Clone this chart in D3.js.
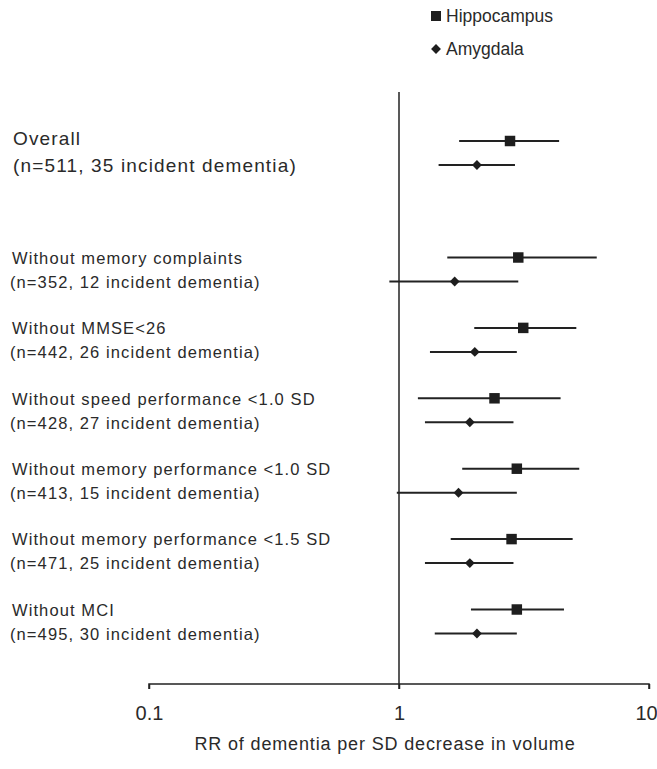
<!DOCTYPE html>
<html lang="en">
<head>
  <meta charset="UTF-8">
  <title>RR of dementia forest plot</title>
  <script src="https://d3js.org/d3.v7.min.js"></script>
  <style>
    body { margin: 0; background: #fff; overflow: hidden; }
    text { font-family: "Liberation Sans", Arial, sans-serif; fill: #2a2a2a; }
  </style>
</head>
<body>
<div id="chart"></div>
<script>
// subgroups (two-line labels)
const groups = [
  "Overall",
  "Without memory complaints",
  "Without MMSE<26",
  "Without speed performance <1.0 SD",
  "Without memory performance <1.0 SD",
  "Without memory performance <1.5 SD",
  "Without MCI"
];
const groupN = [
  "(n=511, 35 incident dementia)",
  "(n=352, 12 incident dementia)",
  "(n=442, 26 incident dementia)",
  "(n=428, 27 incident dementia)",
  "(n=413, 15 incident dementia)",
  "(n=471, 25 incident dementia)",
  "(n=495, 30 incident dementia)"
];
// relative risks with 95% CI
const hippoRR  = [2.78, 3.00, 3.14, 2.41, 2.96, 2.82, 2.96];
const hippoLo  = [1.74, 1.56, 2.00, 1.19, 1.79, 1.61, 1.94];
const hippoHi  = [4.37, 6.18, 5.12, 4.43, 5.26, 4.95, 4.57];
const amygRR   = [2.05, 1.67, 2.01, 1.92, 1.73, 1.92, 2.05];
const amygLo   = [1.44, 0.915, 1.33, 1.27, 0.98, 1.27, 1.39];
const amygHi   = [2.91, 3.00, 2.96, 2.87, 2.96, 2.87, 2.96];
const xTicks = [0.1, 1, 10];

const width = 657, height = 769;
const svg = d3.select("#chart").append("svg")
  .attr("width", width).attr("height", height);

const x = d3.scaleLog().domain([0.1, 10]).range([149, 649]);
// subgroup rows are evenly spaced; overall sits a bit higher
const y = d3.scaleLinear().domain([1, 6]).range([257.5, 609.5]);
const rowY = i => i === 0 ? 141 : y(i);
const amyOffset = 24;
const axisY = 684;

// x axis
const xAxis = svg.append("g")
  .attr("transform", `translate(0,${axisY})`)
  .call(d3.axisBottom(x).tickValues(xTicks).tickFormat(d3.format("")).tickSize(5).tickPadding(17));
xAxis.select(".domain").attr("stroke", "#222").attr("stroke-width", 1.5)
  .attr("d", `M${x(0.1)},5V0H${x(10)}V5`);
xAxis.selectAll(".tick line").attr("stroke", "#222").attr("stroke-width", 1.5);
xAxis.selectAll(".tick text")
  .style("font-family", "'Liberation Sans Narrow', 'Liberation Sans', Arial, sans-serif")
  .attr("font-size", 20).attr("fill", "#2a2a2a")
  .attr("dx", (d, i) => i === 2 ? -3 : 0);

// reference line at RR = 1
svg.append("line")
  .attr("x1", x(1)).attr("x2", x(1))
  .attr("y1", 92).attr("y2", axisY + 5)
  .attr("stroke", "#222").attr("stroke-width", 1.5);

svg.append("text")
  .attr("x", 385).attr("y", 750)
  .attr("text-anchor", "middle")
  .attr("font-size", 18)
  .style("letter-spacing", "0.85px")
  .text("RR of dementia per SD decrease in volume");

// labels
groups.forEach((g, i) => {
  const big = i === 0;
  const fs = big ? 19 : 16.5;
  const ls = big ? "1.15px" : "1.1px";
  svg.append("text")
    .attr("x", big ? 13 : 12).attr("y", big ? rowY(i) - 1 : rowY(i) + 2)
    .attr("dominant-baseline", "middle")
    .attr("font-size", fs)
    .style("letter-spacing", ls)
    .text(g);
  svg.append("text")
    .attr("x", big ? 13 : 10).attr("y", rowY(i) + amyOffset + 2)
    .attr("dominant-baseline", "middle")
    .attr("font-size", fs)
    .style("letter-spacing", ls)
    .text(groupN[i]);
});

// confidence intervals + markers
const hip = hippoRR.map((v, i) => ({v, lo: hippoLo[i], hi: hippoHi[i], y: rowY(i)}));
const amy = amygRR.map((v, i) => ({v, lo: amygLo[i], hi: amygHi[i], y: rowY(i) + amyOffset}));

[hip, amy].forEach(series => {
  svg.append("g").selectAll("line")
    .data(series)
    .join("line")
      .attr("x1", d => x(d.lo)).attr("x2", d => x(d.hi))
      .attr("y1", d => d.y).attr("y2", d => d.y)
      .attr("stroke", "#222").attr("stroke-width", 2);
});

const sq = d3.symbol().type(d3.symbolSquare).size(110);
const dia = d3.symbol().type(d3.symbolDiamond2).size(62);

svg.append("g").selectAll("path")
  .data(hip)
  .join("path")
    .attr("d", sq)
    .attr("transform", d => `translate(${x(d.v)},${d.y})`)
    .attr("fill", "#1e1e1e");

svg.append("g").selectAll("path")
  .data(amy)
  .join("path")
    .attr("d", dia)
    .attr("transform", d => `translate(${x(d.v)},${d.y})`)
    .attr("fill", "#1e1e1e");

// legend
const legend = svg.append("g");
legend.append("path").attr("d", d3.symbol().type(d3.symbolSquare).size(100))
  .attr("transform", "translate(436,16)").attr("fill", "#1e1e1e");
legend.append("text").attr("x", 446).attr("y", 17)
  .attr("dominant-baseline", "middle").attr("font-size", 17.5).text("Hippocampus");
legend.append("path").attr("d", d3.symbol().type(d3.symbolDiamond2).size(62))
  .attr("transform", "translate(436,49)").attr("fill", "#1e1e1e");
legend.append("text").attr("x", 446).attr("y", 50)
  .attr("dominant-baseline", "middle").attr("font-size", 17.5).text("Amygdala");
</script>
</body>
</html>
